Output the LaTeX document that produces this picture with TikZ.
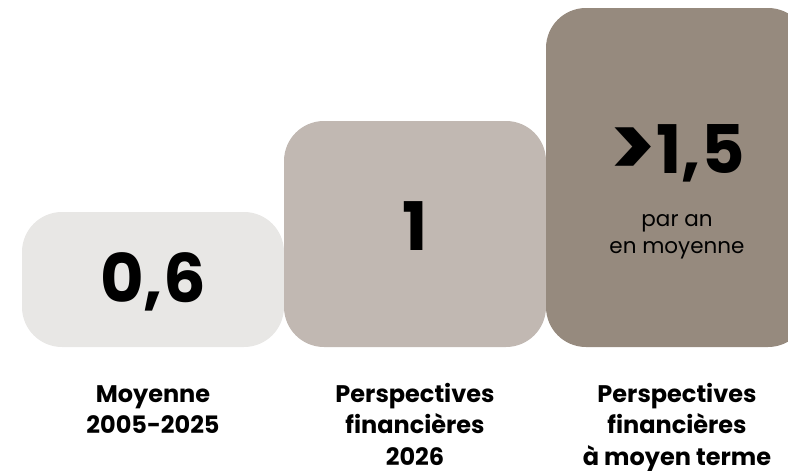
\documentclass[tikz,border=0pt]{standalone}
\usepackage{fontspec}
\usepackage{graphicx}
\setmainfont{Poppins}
\usetikzlibrary{positioning}
\definecolor{barlight}{HTML}{E8E7E5}
\definecolor{barmid}{HTML}{C1B8B2}
\definecolor{bardark}{HTML}{968A7E}
\newcommand{\bigsup}{\raisebox{-0.12ex}{\scalebox{1.3}{>}}}

\begin{document}
\begin{tikzpicture}[x=1pt,y=-1pt,
    bar/.style={rectangle, rounded corners=40pt, minimum width=262pt, inner sep=0pt},
    bignum/.style={font=\fontsize{67}{67}\selectfont\bfseries, inner sep=0pt, anchor=base},
    smalltxt/.style={font=\fontsize{21.5}{27}\selectfont, align=center, inner sep=0pt, anchor=base},
    caption/.style={font=\fontsize{24}{31.5}\selectfont\bfseries, align=center, inner sep=0pt, anchor=base}
  ]
            \useasboundingbox (0,0) rectangle (788,471);
            % bars
            \node[bar, fill=barlight, minimum height=135pt] (moy) at (153,279.5) {};
            \node[bar, fill=barmid, minimum height=226pt] (cur) at (415,234) {};
            \node[bar, fill=bardark, minimum height=339pt] (mt) at (677,177.5) {};
            % values
            \node[bignum] (moyval) at (153,302) {0,6};
            \node[bignum] (curval) at (415,250) {1};
            \node[bignum] (mtval) at (677,173) {\bigsup1,5};
            \node[smalltxt] (mtnote) at (677,253) {par an\\en moyenne};
            % captions (base = last line)
            \node[caption] (moylab) at (153,433.5) {Moyenne\\2005-2025};
            \node[caption] (curlab) at (415,465) {Perspectives\\financières\\2026};
            \node[caption] (mtlab) at (677,465) {Perspectives\\financières\\à moyen terme};
\end{tikzpicture}
\end{document}
